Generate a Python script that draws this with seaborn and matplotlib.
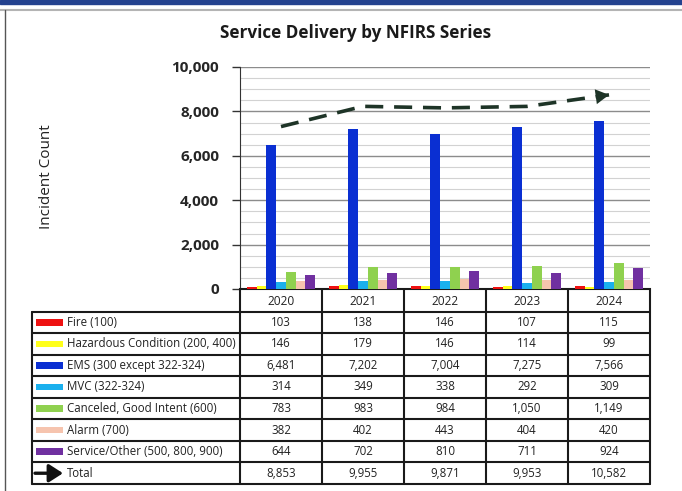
import numpy as np
import pandas as pd
import matplotlib
matplotlib.use('Agg')
import matplotlib.pyplot as plt
from matplotlib.patches import Rectangle
from matplotlib.lines import Line2D
from matplotlib.ticker import FuncFormatter, MultipleLocator
import seaborn as sns

# ---- data -------------------------------------------------------------------
years = ['2020', '2021', '2022', '2023', '2024']
categories = ['Fire (100)', 'Hazardous Condition (200, 400)', 'EMS (300 except 322-324)',
              'MVC (322-324)', 'Canceled, Good Intent (600)', 'Alarm (700)',
              'Service/Other (500, 800, 900)']
fire = [103, 138, 146, 107, 115]
hazardous = [146, 179, 146, 114, 99]
ems = [6481, 7202, 7004, 7275, 7566]
mvc = [314, 349, 338, 292, 309]
canceled = [783, 983, 984, 1050, 1149]
alarm = [382, 402, 443, 404, 420]
service = [644, 702, 810, 711, 924]
total = [8853, 9955, 9871, 9953, 10582]
colors = ['#ee1111', '#ffff1a', '#0a2fd2', '#1ab0ee', '#8fd14f', '#f6c4ae', '#7030a0']

series = [fire, hazardous, ems, mvc, canceled, alarm, service]
df = pd.DataFrame([(y, c, v) for c, vals in zip(categories, series) for y, v in zip(years, vals)],
                  columns=['year', 'category', 'count'])

sns.set_style('white')
plt.rcParams['font.family'] = ['Open Sans', 'DejaVu Sans']

W, H = 682, 491
fig = plt.figure(figsize=(W / 100, H / 100), dpi=100)

# page decoration: blue band, grey rule, left frame line
fig.patches.append(Rectangle((0, 1 - 4 / H), 1, 4 / H, transform=fig.transFigure,
                             color='#24428f', zorder=0))
fig.lines.append(Line2D([0, 1], [1 - 10 / H, 1 - 10 / H], transform=fig.transFigure,
                        color='#b4b4b4', lw=1.5))
fig.lines.append(Line2D([5 / W, 5 / W], [0, 1 - 10 / H], transform=fig.transFigure,
                        color='#555555', lw=1))

# ---- chart ------------------------------------------------------------------
ax = fig.add_axes([240 / W, (H - 289) / H, 410 / W, 222 / H])
sns.barplot(data=df, x='year', y='count', hue='category', hue_order=categories,
            palette=colors, saturation=1, width=0.83, linewidth=0, legend=False,
            ax=ax, zorder=3)
ax.set_xlim(-0.5, 4.5)
ax.set_ylim(0, 10000)
ax.yaxis.set_major_locator(MultipleLocator(2000))
ax.yaxis.set_minor_locator(MultipleLocator(500))
ax.yaxis.set_major_formatter(FuncFormatter(lambda v, p: f'{v:,.0f}'))
ax.grid(axis='y', which='major', color='#8c8c8c', lw=1, zorder=0)
ax.grid(axis='y', which='minor', color='#d2d2d2', lw=0.8, zorder=0)
ax.set_axisbelow(True)
for s in ['top', 'right']:
    ax.spines[s].set_visible(False)
ax.spines['left'].set_color('#333333')
ax.spines['bottom'].set_color('#1a1a1a')
ax.spines['bottom'].set_linewidth(1.5)
ax.tick_params(axis='y', which='major', left=True, length=6, width=1, color='#333333',
               labelsize=11, pad=9)
ax.tick_params(axis='y', which='minor', left=False, length=0)
for lab in ax.get_yticklabels():
    lab.set_fontweight('bold')
ax.set_xticks([])
ax.set_xlabel('')
ax.set_ylabel('')
fig.text(47 / W, 1 - 177 / H, 'Incident Count', rotation=90, ha='center', va='center',
         fontsize=11, color='#222222')
fig.text(356 / W, 1 - 33 / H, 'Service Delivery by NFIRS Series', ha='center', va='center',
         fontsize=12.3, fontweight='bold', color='#1a1a1a')

# total trend on a hidden secondary scale
ax2 = ax.twinx()
line_color = '#1e3427'
sns.lineplot(x=list(range(len(years))), y=total, ax=ax2, color=line_color, lw=2.6,
             linestyle=(0, (5, 3)))
ax2.set_ylim(0, 12100)
ax2.set_xlim(-0.5, 4.5)
ax2.axis('off')
x0, x1 = len(years) - 1.08, len(years) - 1
y0 = total[-2] + (total[-1] - total[-2]) * (x0 - (len(years) - 2))
ax2.annotate('', xy=(x1, total[-1]), xytext=(x0, y0),
             arrowprops=dict(arrowstyle='-|>,head_length=0.8,head_width=0.45',
                             mutation_scale=12, lw=0, color=line_color, shrinkA=0, shrinkB=0))

# ---- data table -------------------------------------------------------------
lab_w = 208 / 82
tax = fig.add_axes([32 / W, (H - 484) / H, 618 / W, 194 / H])
tax.set_xlim(-0.5 - lab_w, 4.5)
tax.set_ylim(len(categories) + 2, 0)
tax.axis('off')
nrows = len(categories) + 2
left = -0.5 - lab_w
lc = '#1a1a1a'
for r in range(1, nrows + 1):
    tax.plot([left, 4.5], [r, r], color=lc, lw=1.5, clip_on=False)
tax.plot([left, left], [1, nrows], color=lc, lw=1.5, clip_on=False)
for xv in np.arange(-0.5, 5.0, 1.0):
    tax.plot([xv, xv], [0, nrows], color=lc, lw=1.5, clip_on=False)

fs = 8.3
for i, y in enumerate(years):
    tax.text(i, 0.55, y, ha='center', va='center', fontsize=fs + 0.3, color='#222222')
rows = series + [total]
labels = categories + ['Total']
for r, (lab, vals) in enumerate(zip(labels, rows), start=1):
    yc = r + 0.5
    for i, v in enumerate(vals):
        tax.text(i, yc, f'{v:,}', ha='center', va='center', fontsize=fs, color='#222222')
    tax.text(left + 35 / 82, yc, lab, ha='left', va='center', fontsize=fs, color='#222222')
    if r <= len(categories):
        tax.add_patch(Rectangle((left + 4 / 82, yc - 0.15), 27 / 82, 0.3,
                                color=colors[r - 1], lw=0))
    else:
        tax.annotate('', xy=(left + 31 / 82, yc), xytext=(left + 3 / 82, yc),
                     arrowprops=dict(arrowstyle='-|>,head_length=0.7,head_width=0.45',
                                     mutation_scale=12, lw=2.4, color='#111111',
                                     shrinkA=0, shrinkB=0))

fig.savefig('out.png', dpi=100)
